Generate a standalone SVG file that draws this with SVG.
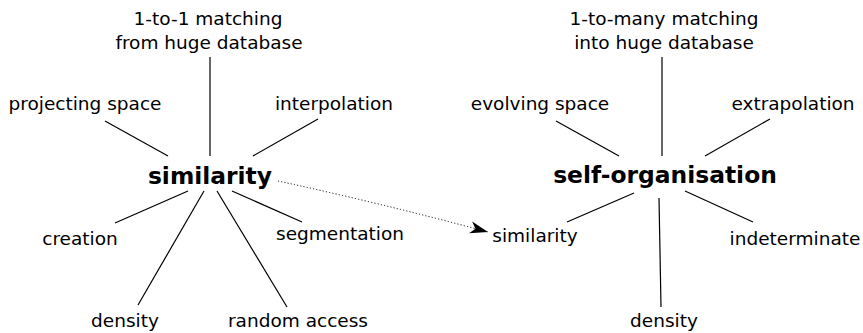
<svg xmlns="http://www.w3.org/2000/svg" width="863" height="333" viewBox="0 0 863 333">
<style>
text{font-family:"DejaVu Sans",sans-serif;fill:#000;text-anchor:middle}
.t{font-size:18.5px}
.h{font-size:23.4px;font-weight:bold}
.e{stroke:#000;stroke-width:1.2;fill:none}
.d{stroke:#000;stroke-width:1;fill:none;stroke-dasharray:1.1 2.2}
</style>
<defs>
<marker id="arr" markerUnits="userSpaceOnUse" markerWidth="20" markerHeight="14" refX="18" refY="6" orient="auto" viewBox="0 0 20 12">
<path d="M0,0 L18,6 L0,12 L5,6 z" fill="#000"/>
</marker>
</defs>
<rect width="863" height="333" fill="#fff"/>
<g id="connectors">
<line class="e" x1="210" y1="57" x2="210" y2="156"/>
<line class="e" x1="105" y1="121" x2="168" y2="156"/>
<line class="e" x1="318" y1="119" x2="253" y2="156"/>
<line class="e" x1="188" y1="191" x2="115" y2="223"/>
<line class="e" x1="204" y1="191" x2="138" y2="305"/>
<line class="e" x1="217" y1="191" x2="287" y2="307"/>
<line class="e" x1="232" y1="191" x2="302" y2="222"/>
<line class="e" x1="662" y1="57" x2="662" y2="156"/>
<line class="e" x1="556" y1="121" x2="619" y2="156"/>
<line class="e" x1="770" y1="119" x2="705" y2="156"/>
<line class="e" x1="634" y1="193" x2="567" y2="222"/>
<line class="e" x1="659" y1="198" x2="661" y2="307"/>
<line class="e" x1="685" y1="191" x2="753" y2="222"/>
<path class="d" d="M278,181 Q380,203 488,232" marker-end="url(#arr)"/>
</g>
<g id="node-similarity"><text class="h" x="210" y="184">similarity</text></g>
<g id="node-matching1"><text class="t" x="208" y="25">1-to-1 matching</text><text class="t" x="209" y="49">from huge database</text></g>
<g id="node-projecting"><text class="t" x="85" y="110">projecting space</text></g>
<g id="node-interpolation"><text class="t" x="334" y="110">interpolation</text></g>
<g id="node-creation"><text class="t" x="80" y="245">creation</text></g>
<g id="node-density1"><text class="t" x="125" y="327">density</text></g>
<g id="node-random"><text class="t" x="298" y="327">random access</text></g>
<g id="node-segmentation"><text class="t" x="340" y="240">segmentation</text></g>
<g id="node-selforg"><text class="h" x="665" y="183">self-organisation</text></g>
<g id="node-matching2"><text class="t" x="664" y="25">1-to-many matching</text><text class="t" x="664" y="49">into huge database</text></g>
<g id="node-evolving"><text class="t" x="540" y="110">evolving space</text></g>
<g id="node-extrapolation"><text class="t" x="793" y="110">extrapolation</text></g>
<g id="node-similarity2"><text class="t" x="535" y="242">similarity</text></g>
<g id="node-density2"><text class="t" x="664" y="327">density</text></g>
<g id="node-indeterminate"><text class="t" x="795" y="245">indeterminate</text></g>
</svg>
